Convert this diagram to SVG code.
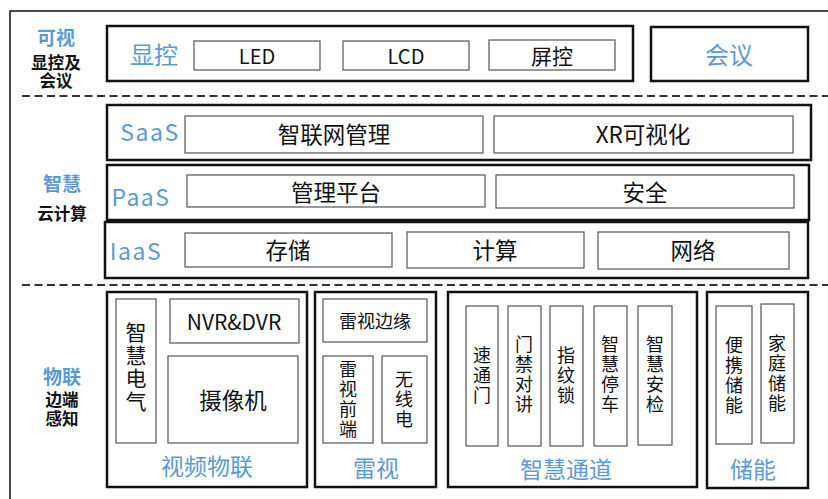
<svg xmlns="http://www.w3.org/2000/svg" width="828" height="499" viewBox="0 0 828 499">
<style>
text{font-family:"Noto Sans CJK SC","Noto Sans",sans-serif;text-anchor:middle;dominant-baseline:central;fill:#111}
.thick{fill:#fff;stroke:#111;stroke-width:2.5}
.thin{fill:#fff;stroke:#555;stroke-width:1.2}
.side{font-size:16.5px;font-weight:bold}
.sideh{font-size:19px;font-weight:bold;fill:#5B9BD5}
.t22{font-size:22.5px}
.t21{font-size:21px}
.t18{font-size:18px}
.v{writing-mode:vertical-rl;letter-spacing:2px}
.lbl{font-size:23px;fill:#5B9BD5}
.dash{stroke:#333;stroke-width:2;stroke-dasharray:8 4.5;fill:none}
</style>
<rect width="828" height="499" fill="#fff"/>
<rect x="10" y="11" width="830" height="500" fill="none" stroke="#111" stroke-width="1.5"/>

<g id="connectors">
<line class="dash" x1="22" y1="96" x2="828" y2="96"/>
<line class="dash" x1="22" y1="285" x2="828" y2="285"/>
</g>

<g id="side-labels">
<text class="sideh" x="56" y="36">可视</text>
<text class="side" x="56" y="62"><tspan x="56" dy="0">显控及</tspan><tspan x="56" dy="18">会议</tspan></text>
<text class="sideh" x="62" y="182">智慧</text>
<text class="side" x="62" y="213">云计算</text>
<text class="sideh" x="62" y="375">物联</text>
<text class="side" x="62" y="399"><tspan x="62" dy="0">边端</tspan><tspan x="62" dy="19">感知</tspan></text>
</g>

<g id="xiankong">
<rect class="thick" x="107" y="26" width="526" height="55"/>
<text class="lbl" x="154" y="53" style="font-size:24px">显控</text>
<rect class="thin" x="194" y="41" width="126" height="29"/>
<text x="257" y="55.5" style="font-size:20px">LED</text>
<rect class="thin" x="343" y="41" width="126" height="29"/>
<text x="406" y="55.5" style="font-size:20px">LCD</text>
<rect class="thin" x="489" y="40" width="126" height="30"/>
<text x="552" y="55" style="font-size:21px">屏控</text>
</g>

<g id="huiyi">
<rect class="thick" x="651" y="27" width="157" height="54"/>
<text class="lbl" x="729" y="53" style="font-size:24px">会议</text>
</g>

<g id="saas">
<rect class="thick" x="107" y="105" width="704" height="55"/>
<text class="lbl" x="150" y="131" style="letter-spacing:1.5px">SaaS</text>
<rect class="thin" x="185" y="116" width="298" height="37"/>
<text class="t22" x="334" y="133">智联网管理</text>
<rect class="thin" x="494" y="116" width="299" height="37"/>
<text class="t22" x="643" y="133">XR可视化</text>
</g>

<g id="paas">
<rect class="thick" x="107" y="165" width="702" height="55"/>
<text class="lbl" x="141" y="196" style="letter-spacing:1.5px">PaaS</text>
<rect class="thin" x="187" y="175" width="298" height="32"/>
<text class="t22" x="336" y="191">管理平台</text>
<rect class="thin" x="496" y="175" width="298" height="33"/>
<text class="t22" x="645" y="191">安全</text>
</g>

<g id="iaas">
<rect class="thick" x="105" y="222" width="703" height="56"/>
<text class="lbl" x="136" y="250" style="letter-spacing:1.5px">IaaS</text>
<rect class="thin" x="185" y="233" width="207" height="34"/>
<text class="t22" x="288" y="249">存储</text>
<rect class="thin" x="407" y="232" width="177" height="36"/>
<text class="t22" x="495" y="249">计算</text>
<rect class="thin" x="598" y="232" width="191" height="37"/>
<text class="t22" x="693" y="249">网络</text>
</g>

<g id="video-iot">
<rect class="thick" x="107" y="292" width="200" height="195"/>
<rect class="thin" x="116" y="299" width="40" height="144"/>
<text class="t21 v" x="136" y="368">智慧电气</text>
<rect class="thin" x="170" y="299" width="129" height="44"/>
<text class="t21" x="234" y="321">NVR&amp;DVR</text>
<rect class="thin" x="168" y="356" width="130" height="87"/>
<text class="t22" x="233" y="399">摄像机</text>
<text class="lbl" x="207" y="465">视频物联</text>
</g>

<g id="leishi">
<rect class="thick" x="315" y="292" width="121" height="195"/>
<rect class="thin" x="323" y="299" width="104" height="43"/>
<text class="t18" x="375" y="320">雷视边缘</text>
<rect class="thin" x="323" y="356" width="50" height="87"/>
<text class="t18 v" x="348" y="400">雷视前端</text>
<rect class="thin" x="382" y="356" width="45" height="87"/>
<text class="t18 v" x="404" y="400">无线电</text>
<text class="lbl" x="376" y="467">雷视</text>
</g>

<g id="smart-channel">
<rect class="thick" x="448" y="292" width="249" height="195"/>
<rect class="thin" x="466" y="306" width="32" height="140"/>
<text class="t18 v" x="482" y="376">速通门</text>
<rect class="thin" x="508" y="306" width="33" height="140"/>
<text class="t18 v" x="524" y="375">门禁对讲</text>
<rect class="thin" x="550" y="306" width="33" height="140"/>
<text class="t18 v" x="566" y="376">指纹锁</text>
<rect class="thin" x="594" y="306" width="33" height="140"/>
<text class="t18 v" x="610" y="375">智慧停车</text>
<rect class="thin" x="638" y="306" width="34" height="139"/>
<text class="t18 v" x="655" y="375">智慧安检</text>
<text class="lbl" x="566" y="468">智慧通道</text>
</g>

<g id="storage">
<rect class="thick" x="707" y="292" width="101" height="196"/>
<rect class="thin" x="716" y="306" width="36" height="138"/>
<text class="t18 v" x="734" y="376">便携储能</text>
<rect class="thin" x="761" y="304" width="33" height="139"/>
<text class="t18 v" x="777" y="374">家庭储能</text>
<text class="lbl" x="753" y="468">储能</text>
</g>
</svg>
